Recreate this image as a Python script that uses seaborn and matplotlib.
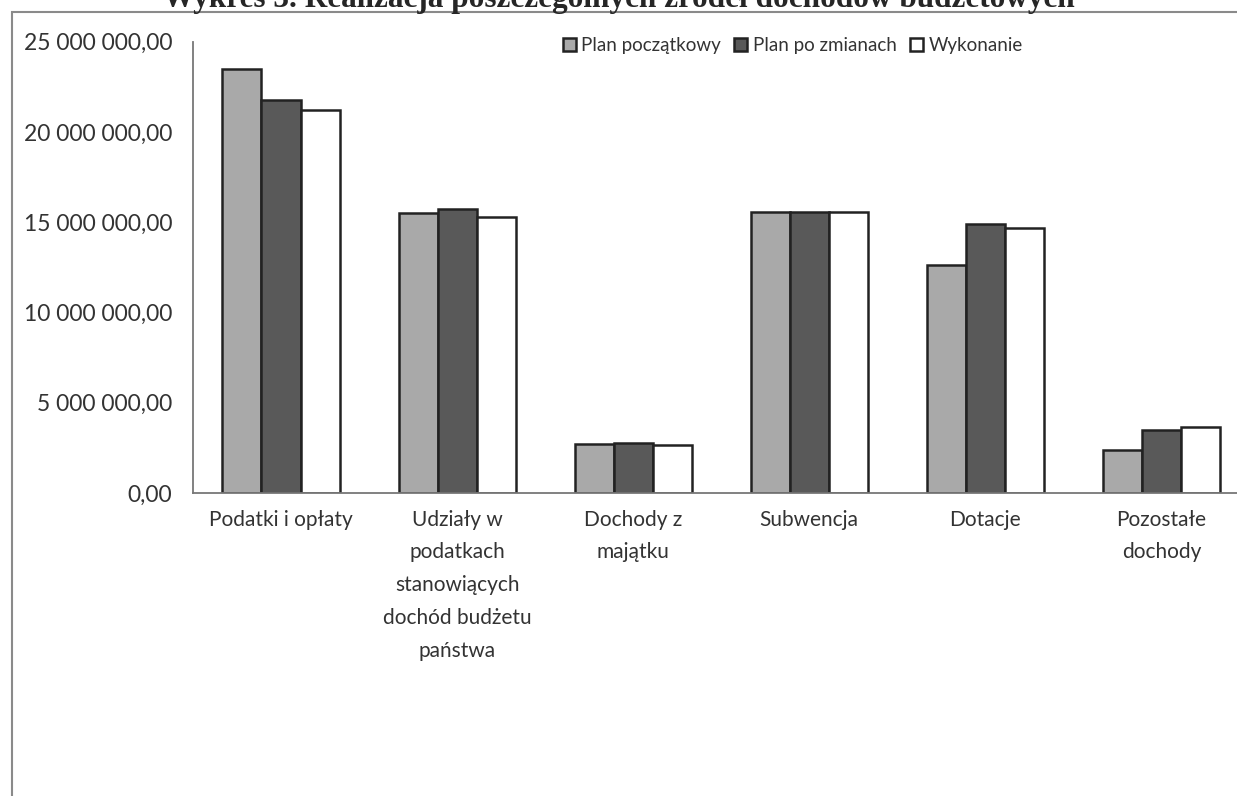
import pandas as pd
import seaborn as sns
import matplotlib.pyplot as plt
from matplotlib.patches import Rectangle
from matplotlib.ticker import FuncFormatter

# dane
kategorie = ['Podatki i opłaty',
             'Udziały w\npodatkach\nstanowiących\ndochód budżetu\npaństwa',
             'Dochody z\nmajątku', 'Subwencja', 'Dotacje', 'Pozostałe\ndochody']
plan_poczatkowy = [23460000, 15520000, 2710000, 15580000, 12650000, 2380000]
plan_po_zmianach = [21770000, 15730000, 2770000, 15580000, 14900000, 3480000]
wykonanie = [21200000, 15290000, 2660000, 15580000, 14700000, 3650000]
serie = ['Plan początkowy', 'Plan po zmianach', 'Wykonanie']

df = pd.DataFrame({'kategoria': kategorie * 3,
                   'seria': [s for s in serie for _ in kategorie],
                   'kwota': plan_poczatkowy + plan_po_zmianach + wykonanie})

sns.set_style('white')
plt.rcParams['font.family'] = ['Lato', 'DejaVu Sans']

fig = plt.figure(figsize=(12.37, 7.96), dpi=100)
ax = fig.add_axes([0.156, 0.3807, 0.854, 0.567])

kolory = ['#a9a9a9', '#595959', '#ffffff']
sns.barplot(data=df, x='kategoria', y='kwota', hue='seria', hue_order=serie,
            order=kategorie, palette=kolory, width=0.665, edgecolor='#222222',
            linewidth=1.8, saturation=1, ax=ax)

ax.set_xlim(-0.5, 5.5)
ax.set_ylim(0, 25000000)
ax.set_yticks(range(0, 25000001, 5000000))
ax.yaxis.set_major_formatter(FuncFormatter(
    lambda v, p: f'{v:,.2f}'.replace(',', ' ').replace('.', ',')))
ax.set_xlabel('')
ax.set_ylabel('')

# podziałki osi X na granicach kategorii
ax.set_xticks([i + 0.5 for i in range(-1, 6)], minor=True)
ax.tick_params(axis='x', which='major', length=0, pad=12, labelsize=15,
               labelcolor='#333333')
ax.tick_params(axis='x', which='minor', length=6, direction='out',
               color='#777777', width=1.2)
ax.tick_params(axis='y', length=6, direction='out', color='#777777',
               width=1.2, labelsize=16.5, labelcolor='#333333', pad=9)
for lab in ax.get_xticklabels():
    lab.set_linespacing(1.8)
    lab.set_verticalalignment('top')

for s in ['top', 'right']:
    ax.spines[s].set_visible(False)
for s in ['left', 'bottom']:
    ax.spines[s].set_color('#777777')
    ax.spines[s].set_linewidth(1.3)

sns.move_legend(ax, loc='upper center', bbox_to_anchor=(0.641, 0.975),
                bbox_transform=fig.transFigure, ncol=3, frameon=False,
                title=None, fontsize=13.5, handlelength=0.7, handleheight=0.7,
                handletextpad=0.3, columnspacing=0.7)
for t in ax.get_legend().get_texts():
    t.set_color('#333333')

# ramka wykresu
fig.patches.append(Rectangle((0.0097, -0.05), 1.1, 1.035, transform=fig.transFigure,
                             fill=False, edgecolor='#8a8a8a', linewidth=1.5))

fig.text(0.5, 0.991, 'Wykres 3. Realizacja poszczególnych źródeł dochodów budżetowych',
         ha='center', va='baseline', fontsize=22.5, fontweight='bold',
         family=['Liberation Serif', 'DejaVu Serif'])

fig.savefig('out.png', dpi=100)
